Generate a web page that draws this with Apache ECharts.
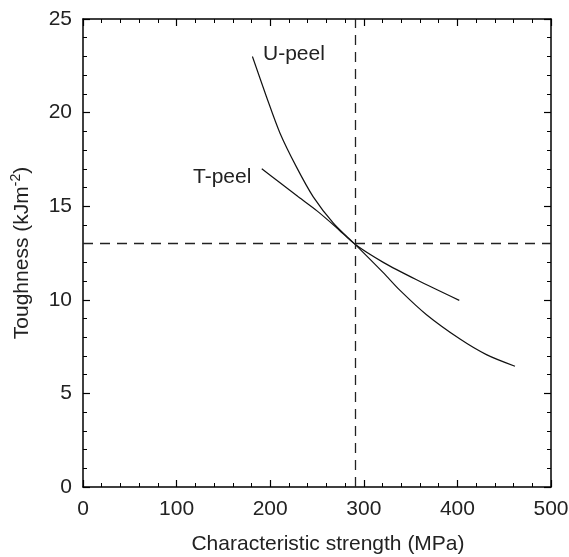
<!DOCTYPE html>
<html><head><meta charset="utf-8">
<script src="https://cdn.jsdelivr.net/npm/echarts@6/dist/echarts.min.js"></script>
<style>html,body{margin:0;padding:0;background:#fff}#c{width:569px;height:557px}</style>
</head><body><div id="c"></div>
<script>
// U-peel curve (strength MPa, toughness kJ/m2)
const uPeelX = [181, 196, 210.5, 228, 246, 267.5, 291, 320.8, 338.7, 367, 402.8, 431, 461.5];
const uPeelY = [23.0, 20.85, 18.9, 17.1, 15.5, 14.1, 12.95, 11.45, 10.5, 9.2, 7.9, 7.07, 6.45];
// T-peel curve
const tPeelX = [191, 210.5, 230, 250, 271, 291, 320.8, 356.4, 402];
const tPeelY = [17.0, 16.25, 15.5, 14.75, 13.85, 12.95, 12.0, 11.07, 9.97];
// reference lines
const refStrength = 291;
const refToughness = 13;
const xTicks = [0, 100, 200, 300, 400, 500];
const yTicks = [0, 5, 10, 15, 20, 25];

const font = 'Liberation Sans, Arial, sans-serif';
const zip = (a, b) => a.map((v, i) => [v, b[i]]);
const axisCommon = () => ({
  axisLine: {onZero: false, lineStyle: {color: '#000', width: 1.5}},
  axisTick: {inside: true, length: 7, lineStyle: {color: '#000', width: 1.2}},
  minorTick: {show: true, splitNumber: 5, length: 4, lineStyle: {color: '#000', width: 1}},
  splitLine: {show: false},
});
const chart = echarts.init(document.getElementById('c'));
chart.setOption({
  animation: false,
  grid: {left: 83, right: 18, top: 19, bottom: 70, containLabel: false, outerBoundsMode: 'none'},
  xAxis: [
    Object.assign({type: 'value', min: xTicks[0], max: xTicks[xTicks.length-1], interval: 100,
      name: 'Characteristic strength (MPa)', nameLocation: 'middle', nameGap: 47,
      nameTextStyle: {fontFamily: font, fontSize: 21, color: '#222', padding: [0, 0, 0, 22]},
      axisLabel: {fontFamily: font, fontSize: 21, color: '#222', margin: 12}}, axisCommon()),
    Object.assign({type: 'value', position: 'top', min: 0, max: 500, interval: 100,
      axisLabel: {show: false}}, axisCommon())
  ],
  yAxis: [
    Object.assign({type: 'value', min: yTicks[0], max: yTicks[yTicks.length-1], interval: 5,
      name: '{a|Toughness (kJm}{s|-2}{a|)}', nameLocation: 'middle', nameGap: 48,
      nameTextStyle: {rich: {a: {fontFamily: font, fontSize: 21, color: '#222'},
        s: {fontFamily: font, fontSize: 14, color: '#222', verticalAlign: 'bottom', padding: [0,0,12,0]}}},
      axisLabel: {fontFamily: font, fontSize: 21, color: '#222', margin: 11}}, axisCommon()),
    Object.assign({type: 'value', position: 'right', min: 0, max: 25, interval: 5,
      axisLabel: {show: false}}, axisCommon())
  ],
  series: [
    {type: 'line', data: zip(uPeelX, uPeelY), smooth: 0.3, showSymbol: false,
      lineStyle: {color: '#111', width: 1.2},
      markLine: {silent: true, symbol: 'none', label: {show: false},
        lineStyle: {color: '#222', width: 1.3, type: [10, 7]},
        data: [{xAxis: refStrength}, {yAxis: refToughness}]}},
    {type: 'line', data: zip(tPeelX, tPeelY), smooth: 0.3, showSymbol: false,
      lineStyle: {color: '#111', width: 1.2}}
  ],
  graphic: [
    {type: 'text', left: 263, top: 44, style: {text: 'U-peel', font: '21px ' + font, fill: '#222'}},
    {type: 'text', left: 193, top: 167, style: {text: 'T-peel', font: '21px ' + font, fill: '#222'}}
  ]
});
</script></body></html>
